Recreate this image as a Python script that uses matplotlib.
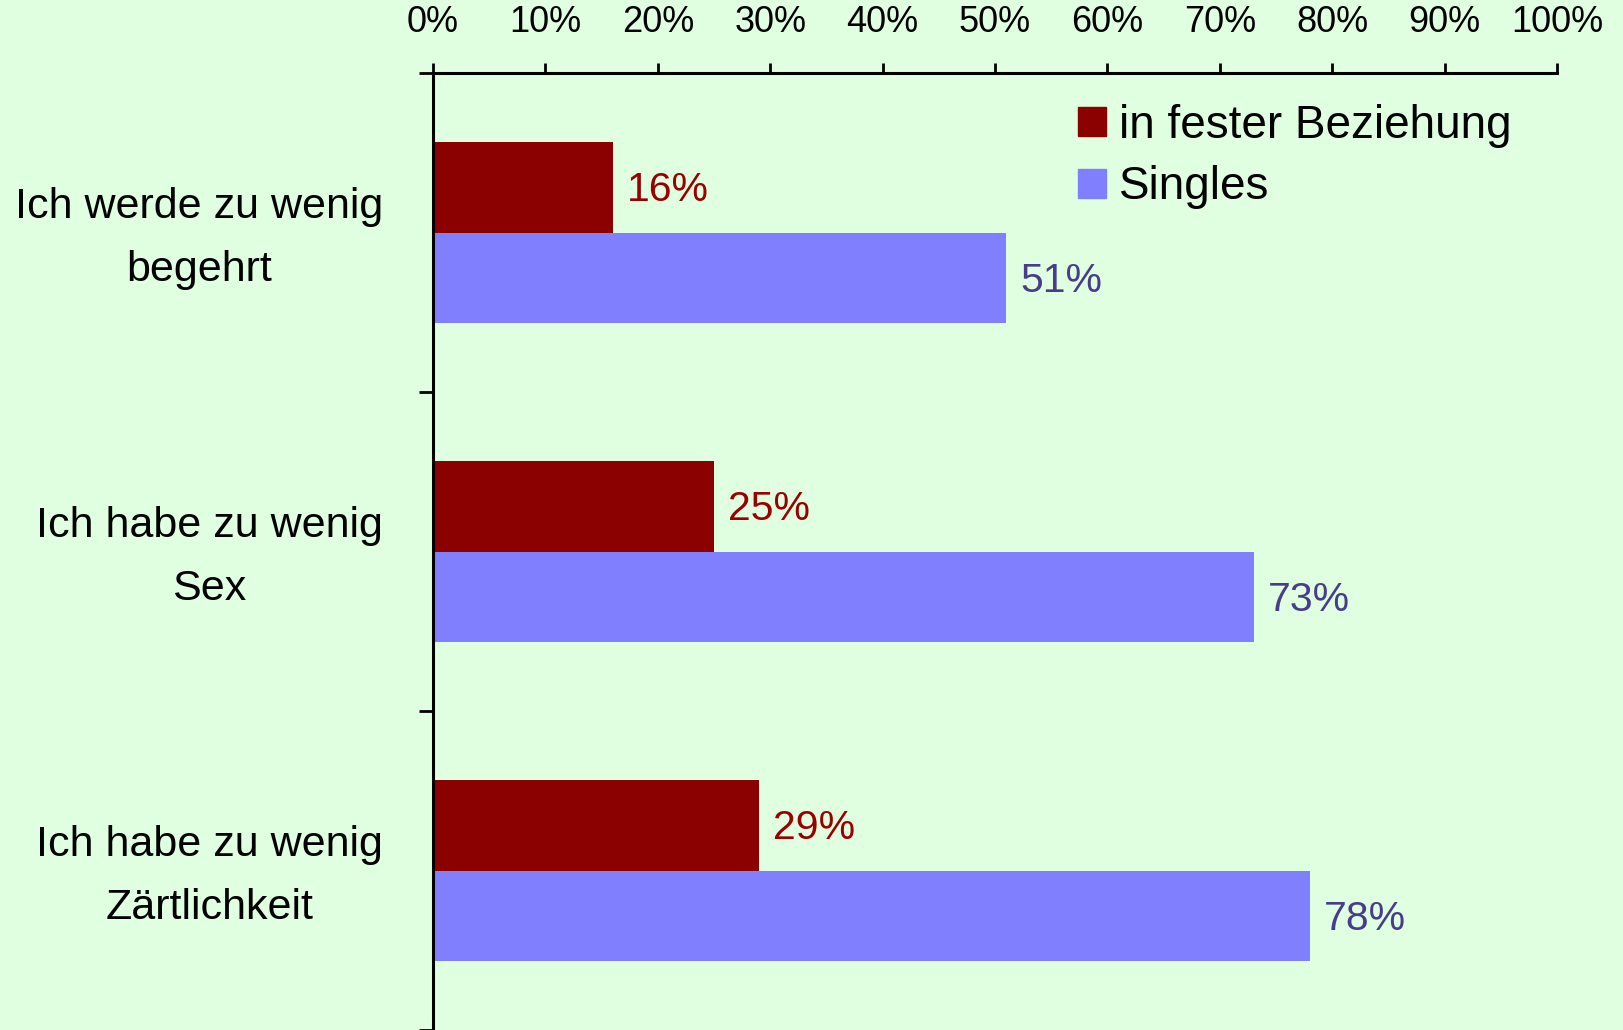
import numpy as np
import matplotlib
matplotlib.use("Agg")
from matplotlib import pyplot as plt
from matplotlib.patches import Patch
from matplotlib.transforms import ScaledTranslation

plt.rcParams['font.family'] = ['Liberation Sans', 'DejaVu Sans']

# data
categories = ['Ich werde zu wenig\nbegehrt',
              'Ich habe zu wenig\nSex',
              'Ich habe zu wenig\nZärtlichkeit']
series_names = ['in fester Beziehung', 'Singles']
fest = [16, 25, 29]
singles = [51, 73, 78]
xticks = list(range(0, 101, 10))

bg = '#E0FFE0'
red = '#8B0000'
blue = '#8080FF'
red_txt = '#990000'
blue_txt = '#483D8B'

fig = plt.figure(figsize=(16.24, 10.30), dpi=100, facecolor=bg)
ax = fig.add_axes([433/1624, 0.0, (1557-433)/1624, 1 - 73/1030])
ax.set_facecolor(bg)

y = np.arange(len(categories))
h = 0.285
b1 = ax.barh(y - h/2, fest, height=h, color=red, label=series_names[0])
b2 = ax.barh(y + h/2, singles, height=h, color=blue, label=series_names[1])

for bars, vals, c in [(b1, fest, red_txt), (b2, singles, blue_txt)]:
    for bar, v in zip(bars, vals):
        ax.annotate('%d%%' % v, (bar.get_width(), bar.get_y() + bar.get_height()/2),
                    xytext=(10, -2), textcoords='offset points',
                    ha='left', va='center', fontsize=29.5, color=c)

ax.set_xlim(0, 100)
ax.set_ylim(len(categories) - 0.5, -0.5)

# x axis on top
ax.xaxis.tick_top()
ax.set_xticks(xticks)
ax.set_xticklabels(['%d%%' % t for t in xticks])
ax.tick_params(axis='x', which='major', direction='out', length=7, width=2,
               pad=17, labelsize=26)

# y axis: labels at centers, ticks between categories
ax.set_yticks(y)
ax.set_yticklabels(categories, multialignment='center', linespacing=1.75)
ax.set_yticks(np.arange(-0.5, len(categories)), minor=True)
ax.tick_params(axis='y', which='major', length=0, pad=36, labelsize=31)
ax.tick_params(axis='y', which='minor', direction='out', length=10, width=2)
shift = ScaledTranslation(0, 0.1, fig.dpi_scale_trans)
for lab in ax.get_yticklabels():
    lab.set_transform(lab.get_transform() + shift)

for s in ['right', 'bottom']:
    ax.spines[s].set_visible(False)
for s in ['left', 'top']:
    ax.spines[s].set_linewidth(2.2)

handles = [Patch(color=red), Patch(color=blue)]
fig.legend(handles, series_names, loc='upper left',
           bbox_to_anchor=(1078/1624, 1 - 104/1030), frameon=False,
           fontsize=33, handlelength=0.6, handleheight=0.6,
           handletextpad=0.3, labelspacing=0.38, borderpad=0, borderaxespad=0)

fig.savefig('out.png', dpi=100, facecolor=bg)
